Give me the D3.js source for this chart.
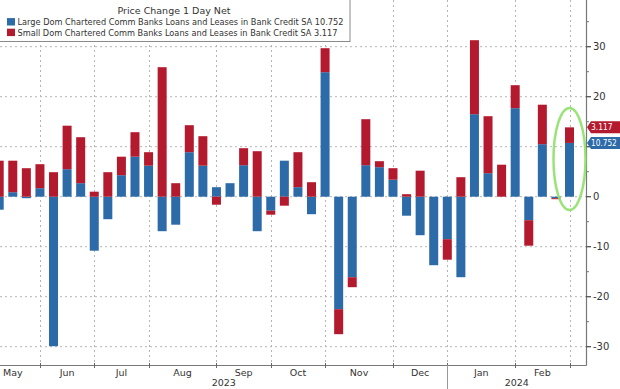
<!DOCTYPE html>
<html><head><meta charset="utf-8">
<script src="https://cdn.jsdelivr.net/npm/d3@7"></script>
<style>
html,body{margin:0;padding:0;background:#fff;}
svg{display:block;font-family:Tahoma,"DejaVu Sans",sans-serif;}
</style></head>
<body>
<script>
const weeks = ["2023-05-10","2023-05-17","2023-05-24","2023-05-31","2023-06-07","2023-06-14","2023-06-21","2023-06-28",
"2023-07-05","2023-07-12","2023-07-19","2023-07-26","2023-08-02","2023-08-09","2023-08-16","2023-08-23","2023-08-30",
"2023-09-06","2023-09-13","2023-09-20","2023-09-27","2023-10-04","2023-10-11","2023-10-18","2023-10-25",
"2023-11-01","2023-11-08","2023-11-15","2023-11-22","2023-11-29","2023-12-06","2023-12-13","2023-12-20","2023-12-27",
"2024-01-03","2024-01-10","2024-01-17","2024-01-24","2024-01-31","2024-02-07","2024-02-14","2024-02-21","2024-02-28"];
const largeBanks = [-2.6,0.9,-0.3,1.7,-29.9,5.5,2.7,-10.8,-4.5,4.3,8.0,6.2,-6.9,-5.6,8.9,6.2,1.9,2.7,6.3,-6.9,-2.8,7.2,1.9,-3.5,24.9,
-22.5,-16.1,6.3,5.9,3.4,-3.8,-7.7,-13.7,-8.5,-16.1,16.5,4.7,0,17.7,-4.7,10.5,-0.3,10.752];
const smallBanks = [7.2,6.3,5.7,4.8,4.9,8.7,9.2,1.0,4.9,3.7,4.9,2.7,25.9,2.7,5.4,5.9,-1.6,0,3.4,9.1,-0.8,-1.8,7.0,2.9,4.8,
-5.0,-2.0,9.2,1.2,2.3,0.5,5.2,0,-4.1,3.9,14.8,11.4,6.4,4.6,-5.1,7.9,-0.2,3.117];
const seriesNames = ["Large Dom Chartered Comm Banks Loans and Leases in Bank Credit SA 10.752",
                     "Small Dom Chartered Comm Banks Loans and Leases in Bank Credit SA 3.117"];
const chartTitle = "Price Change 1 Day Net";
const yTicks = [30,20,10,0,-10,-20,-30];
const monthNames = ["Jan","Feb","Mar","Apr","May","Jun","Jul","Aug","Sep","Oct","Nov","Dec"];
const lastLabels = ["10.752","3.117"];

const W = 620, H = 389;
const colors = ["#2c6aa8","#b41a2e"];
const svg = d3.select("body").append("svg").attr("width",W).attr("height",H);

const plotRight = 586, plotBottom = 365;
const x = d3.scaleLinear().domain([0, weeks.length-1]).range([-0.8, 569.5]);
const y = d3.scaleLinear().domain([-33.66, 39.34]).range([plotBottom, 0]);

const data = weeks.map((w,i)=>({date:w, large:largeBanks[i], small:smallBanks[i]}));
const stack = d3.stack().keys(["large","small"]).offset(d3.stackOffsetDiverging);
const layers = stack(data);

svg.append("defs").append("clipPath").attr("id","clip")
  .append("rect").attr("x",0).attr("y",0).attr("width",plotRight).attr("height",plotBottom);

// month structure
const parsed = weeks.map(d=>new Date(d+"T00:00:00"));
const months = [];
parsed.forEach((d,i)=>{
  const key = d.getFullYear()+"-"+d.getMonth();
  const last = months[months.length-1];
  if(!last || last.key!==key) months.push({key, m:d.getMonth(), yr:d.getFullYear(), first:i, last:i});
  else last.last = i;
});

const grid = svg.append("g");
grid.selectAll("line.h").data(yTicks).enter().append("line")
  .attr("x1",0).attr("x2",plotRight).attr("y1",d=>y(d)).attr("y2",d=>y(d))
  .attr("stroke","#b5b5b5").attr("stroke-width",1).attr("stroke-dasharray","2,3");
grid.selectAll("line.v").data(months).enter().append("line")
  .attr("x1",d=>Math.round(x(d.last))+0.5).attr("x2",d=>Math.round(x(d.last))+0.5)
  .attr("y1",0).attr("y2",plotBottom)
  .attr("stroke","#b5b5b5").attr("stroke-width",1).attr("stroke-dasharray","2,3");

// bars
const bw = 9;
const barsG = svg.append("g").attr("clip-path","url(#clip)");
layers.forEach((layer,li)=>{
  barsG.selectAll(null).data(layer).enter().append("rect")
    .attr("x",(d,i)=>x(i)-bw/2)
    .attr("width",bw)
    .attr("y",d=>y(Math.max(d[0],d[1])))
    .attr("height",d=>Math.abs(y(d[0])-y(d[1])))
    .attr("fill",colors[li]);
});

// last value label positions (used to hide colliding tick labels)
const li = weeks.length-1;
const lbls = [
  {yv: y(largeBanks[li]), c: colors[0], t: lastLabels[0]},
  {yv: y(largeBanks[li]+smallBanks[li]), c: colors[1], t: lastLabels[1]}
];
const boxH = 12;
const collides = v => lbls.some(l=>Math.abs(y(v)-l.yv) < boxH);

// right axis
const ax = svg.append("g");
ax.append("line").attr("x1",plotRight+0.5).attr("x2",plotRight+0.5).attr("y1",0).attr("y2",plotBottom+0.5)
  .attr("stroke","#777").attr("stroke-width",1.2);
ax.append("line").attr("x1",0).attr("x2",plotRight+0.5).attr("y1",plotBottom+0.5).attr("y2",plotBottom+0.5)
  .attr("stroke","#777").attr("stroke-width",1.2);
const minor = d3.range(-30,40,5).filter(v=>v%10!==0);
ax.selectAll("line.mi").data(minor).enter().append("line")
  .attr("x1",plotRight).attr("x2",plotRight+3).attr("y1",d=>y(d)).attr("y2",d=>y(d))
  .attr("stroke","#777");
ax.selectAll("line.ma").data(yTicks).enter().append("line")
  .attr("x1",plotRight).attr("x2",plotRight+5).attr("y1",d=>y(d)).attr("y2",d=>y(d))
  .attr("stroke","#555").attr("stroke-width",1.3);
ax.selectAll("text.yl").data(yTicks.filter(v=>!collides(v))).enter().append("text")
  .attr("x",plotRight+7).attr("y",d=>y(d)).attr("dy","0.35em")
  .attr("font-size",10).attr("fill","#333").text(d=>d);

// bottom axis ticks and labels
ax.selectAll("line.xt").data(months).enter().append("line")
  .attr("x1",d=>Math.round(x(d.last))+0.5).attr("x2",d=>Math.round(x(d.last))+0.5)
  .attr("y1",plotBottom-2).attr("y2",plotBottom+3).attr("stroke","#666");
ax.selectAll("text.ml").data(months).enter().append("text")
  .attr("x",d=>Math.max(10.5,(x(d.first-1)+x(d.last))/2)).attr("y",372.5).attr("dy","0.35em")
  .attr("text-anchor","middle").attr("font-size",9.5).attr("fill","#333")
  .text(d=>monthNames[d.m]);
const years = d3.groups(months, d=>d.yr).map(([yr,ms])=>({yr, first:ms[0].first, last:ms[ms.length-1].last}));
years.forEach((yy,k)=>{
  const left = k===0 ? 0 : Math.round(x(years[k-1].last))+0.5;
  const right = k===years.length-1 ? plotRight : Math.round(x(yy.last))+0.5;
  if(k<years.length-1){
    ax.append("line").attr("x1",right).attr("x2",right).attr("y1",plotBottom).attr("y2",H)
      .attr("stroke","#999");
  }
  ax.append("text").attr("x",(left+right)/2).attr("y",383).attr("dy","0.35em")
    .attr("text-anchor","middle").attr("font-size",9.5).attr("fill","#333").text(yy.yr);
});

// last value labels
lbls.forEach(l=>{
  const h = boxH, x0 = plotRight+1, tip = 4;
  const yc = l.yv;
  svg.append("path")
    .attr("d",`M${x0},${yc} L${x0+tip},${yc-h/2} L${W},${yc-h/2} L${W},${yc+h/2} L${x0+tip},${yc+h/2} Z`)
    .attr("fill",l.c);
  svg.append("text").attr("x",x0+tip).attr("y",yc).attr("dy","0.35em")
    .attr("font-size",8.5).attr("fill","#fff").text(l.t)
    .attr("textLength", l.t.length*4.3).attr("lengthAdjust","spacingAndGlyphs");
});

// highlight ellipse
svg.append("ellipse").attr("cx",x(li)).attr("cy",y((largeBanks[li]+smallBanks[li])/2)-3)
  .attr("rx",16).attr("ry",51)
  .attr("fill","none").attr("stroke","#8fe06a").attr("stroke-width",2.5).attr("opacity",0.9);

// legend
const lg = svg.append("g");
lg.append("rect").attr("x",-1).attr("y",-1).attr("width",351).attr("height",42.5)
  .attr("fill","#fff").attr("stroke","#8a8a8a").attr("stroke-width",1);
lg.append("text").attr("x",174).attr("y",11).attr("dy","0.35em").attr("text-anchor","middle")
  .attr("font-size",9.5).attr("fill","#333").text(chartTitle);
seriesNames.forEach((n,i)=>{
  const yy = 21.7 + i*10.6;
  lg.append("rect").attr("x",7).attr("y",yy-3.6).attr("width",8).attr("height",7.4).attr("fill",colors[i]);
  lg.append("text").attr("x",17.5).attr("y",yy).attr("dy","0.35em")
    .attr("font-size",9.5).attr("fill","#333").text(n)
    .attr("textLength", i===0?326:320).attr("lengthAdjust","spacingAndGlyphs");
});
</script>
</body></html>
